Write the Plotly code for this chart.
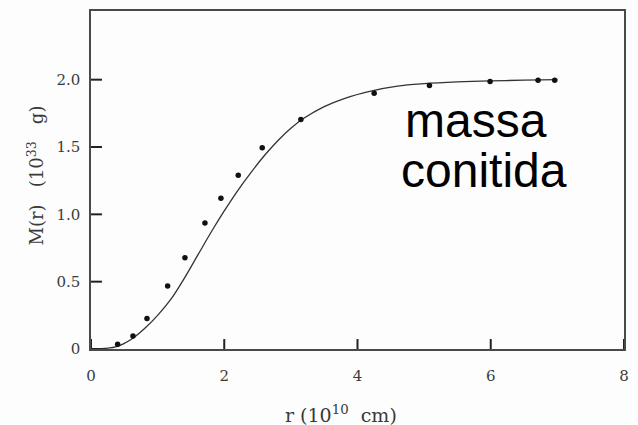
import plotly.graph_objects as go

# Observed data points (r in 1e10 cm, M in 1e33 g)
r_points = [0.40, 0.63, 0.84, 1.15, 1.41, 1.71, 1.95, 2.21, 2.57, 3.15, 4.25, 5.08, 5.99, 6.71, 6.96]
m_points = [0.035, 0.096, 0.227, 0.468, 0.678, 0.936, 1.12, 1.29, 1.495, 1.705, 1.90, 1.956, 1.986, 1.996, 1.996]

# Model curve
r_curve = [0, 0.2, 0.4, 0.6, 0.8, 1.0, 1.2, 1.4, 1.6, 1.8, 2.0, 2.2, 2.4, 2.6, 2.8, 3.0, 3.2,
           3.5, 3.8, 4.2, 4.6, 5.0, 5.5, 6.0, 6.5, 7.0]
m_curve = [0, 0.004, 0.02, 0.07, 0.15, 0.25, 0.37, 0.525, 0.695, 0.865, 1.025, 1.175, 1.31, 1.435, 1.545,
           1.64, 1.715, 1.80, 1.86, 1.915, 1.952, 1.97, 1.983, 1.991, 1.996, 2.0]

x_ticks = [0, 2, 4, 6, 8]
x_labels = ["0", "2", "4", "6", "8"]
y_ticks = [0, 0.5, 1.0, 1.5, 2.0]
y_labels = ["0", "0.5", "1.0", "1.5", "2.0"]
x_range = [0, 8]
y_range = [0, 2.51]

serif = "DejaVu Serif"
tc = "#3a3a3a"
axc = "#4a4a4a"
tickc = "#222222"

fig = go.Figure()
fig.add_trace(go.Scatter(x=r_curve, y=m_curve, mode="lines",
                         line=dict(color="#333333", width=1.3, shape="spline"),
                         showlegend=False, hoverinfo="skip"))
fig.add_trace(go.Scatter(x=r_points, y=m_points, mode="markers",
                         marker=dict(color="#111111", size=5.5),
                         showlegend=False))

# inward tick marks drawn from the tick value lists (lengths as fractions of the plot area)
plot_w, plot_h = 638 - 91 - 12, 425 - 9 - 76
shapes = []
for xv in x_ticks:
    shapes.append(dict(type="line", xref="x", yref="paper",
                       x0=xv, x1=xv, y0=0, y1=10 / plot_h, layer="above",
                       line=dict(color=tickc, width=2)))
for yv in y_ticks:
    shapes.append(dict(type="line", xref="paper", yref="y",
                       x0=0, x1=11 / plot_w, y0=yv, y1=yv, layer="above",
                       line=dict(color=tickc, width=2)))

fig.update_layout(
    width=638, height=425,
    margin=dict(l=91, r=12, t=9, b=76),
    paper_bgcolor="#fdfdfd", plot_bgcolor="#fdfdfd",
    shapes=shapes,
    xaxis=dict(range=x_range, tickmode="array", tickvals=x_ticks, ticktext=x_labels,
               ticks="", showline=True, linecolor=axc, linewidth=1.5, mirror=True,
               showgrid=False, zeroline=False,
               tickfont=dict(family=serif, size=15, color=tc), ticklabelstandoff=12),
    yaxis=dict(range=y_range, tickmode="array", tickvals=y_ticks, ticktext=y_labels,
               ticks="", showline=True, linecolor=axc, linewidth=1.5, mirror=True,
               showgrid=False, zeroline=False,
               tickfont=dict(family=serif, size=15, color=tc), ticklabelstandoff=6),
    annotations=[
        dict(text="r (10<sup>10</sup>&nbsp; cm)", xref="paper", yref="paper", x=0.469, y=-0.193,
             xanchor="center", yanchor="middle", showarrow=False,
             font=dict(family=serif, size=19, color=tc)),
        dict(text="M(r)&nbsp;&nbsp; (10<sup>33</sup>&nbsp;&nbsp; g)", xref="paper", yref="paper",
             x=-0.104, y=0.512,
             xanchor="center", yanchor="middle", showarrow=False, textangle=-90,
             font=dict(family=serif, size=18, color=tc)),
        dict(text="massa", xref="paper", yref="paper", x=(404 - 91) / 535, y=(349 - 119.5) / 340,
             xanchor="left", yanchor="middle", showarrow=False,
             font=dict(family="Liberation Sans", size=48, color="#000000")),
        dict(text="conitida", xref="paper", yref="paper", x=(400 - 91) / 535, y=(349 - 169.5) / 340,
             xanchor="left", yanchor="middle", showarrow=False,
             font=dict(family="Liberation Sans", size=48, color="#000000")),
    ],
)

fig.write_html("out.html")
